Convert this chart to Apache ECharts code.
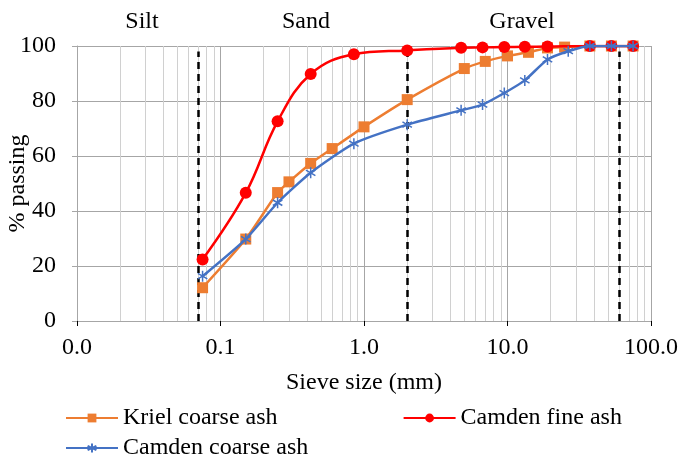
<!DOCTYPE html>
<html>
<head>
<meta charset="utf-8">
<script src="https://cdn.jsdelivr.net/npm/echarts@6/dist/echarts.min.js"></script>
<style>
  html, body { margin: 0; padding: 0; background: #fff; }
  #chart { width: 678px; height: 457px; }
</style>
</head>
<body>
<div id="chart"></div>
<script>
// sieve sizes (mm) and % passing
const krielSizes = [0.075, 0.15, 0.25, 0.3, 0.425, 0.6, 1.0, 2.0, 5.0, 7.0, 10, 14, 19, 25, 37.5, 53, 75]
const krielPassing = [12.1, 29.8, 46.7, 50.6, 57.3, 62.7, 70.6, 80.5, 91.8, 94.4, 96.4, 97.7, 99.3, 99.6, 100, 100, 100]

const camdenFineSizes = [0.075, 0.15, 0.25, 0.425, 0.85, 2.0, 4.75, 6.7, 9.5, 13.2, 19, 37.5, 53, 75]
const camdenFinePassing = [22.4, 46.6, 72.6, 89.8, 97.0, 98.4, 99.4, 99.5, 99.6, 99.7, 99.8, 100, 100, 100]

const camdenCoarseSizes = [0.075, 0.15, 0.25, 0.425, 0.85, 2.0, 4.75, 6.7, 9.5, 13.2, 19, 26.5, 37.5, 53, 75]
const camdenCoarsePassing = [16.3, 29.8, 43.0, 53.9, 64.5, 71.4, 76.6, 78.7, 82.9, 87.5, 95.1, 98.1, 100, 100, 100]

// silt / sand / gravel boundaries (mm)
const boundaries = [0.07, 2.0, 60]
const zoneLabels = ['Silt', 'Sand', 'Gravel']

const FONT = '"Liberation Serif", "Times New Roman", serif'
const FS = 24

const pair = (xs, ys) => xs.map((x, i) => [x, ys[i]])

// minor log gridlines: 2..9 within each decade
const minorLines = []
;[0.01, 0.1, 1, 10].forEach(d => {
  for (let k = 2; k <= 9; k++) minorLines.push({ xAxis: +(d * k).toPrecision(3) })
})

const chart = echarts.init(document.getElementById('chart'))

const legendText = { fontFamily: FONT, fontSize: FS, color: '#000' }

const option = {
  animation: false,
  textStyle: { fontFamily: FONT },
  grid: { left: 77, right: 27, top: 46, bottom: 136, containLabel: false, outerBoundsMode: 'none' },
  xAxis: {
    type: 'log',
    logBase: 10,
    min: 0.01,
    max: 100,
    name: 'Sieve size (mm)',
    nameLocation: 'middle',
    nameGap: 50,
    nameMoveOverlap: false,
    nameTextStyle: { fontFamily: FONT, fontSize: FS, color: '#000' },
    axisLine: { lineStyle: { color: '#a6a6a6', width: 1 } },
    axisTick: { show: true, length: 5, lineStyle: { color: '#000' } },
    axisLabel: {
      fontFamily: FONT, fontSize: FS, color: '#000', margin: 15,
      formatter: v => v.toFixed(1)
    },
    splitLine: { show: true, lineStyle: { color: '#a6a6a6', width: 1 } }
  },
  yAxis: {
    type: 'value',
    min: 0,
    max: 100,
    interval: 20,
    name: '% passing',
    nameLocation: 'middle',
    nameGap: 47,
    nameRotate: 90,
    nameMoveOverlap: false,
    nameTextStyle: { fontFamily: FONT, fontSize: FS, color: '#000' },
    axisLine: { show: true, lineStyle: { color: '#a6a6a6' } },
    axisTick: { show: true, length: 5, lineStyle: { color: '#a6a6a6' } },
    axisLabel: { fontFamily: FONT, fontSize: FS, color: '#000', margin: 21 },
    splitLine: { lineStyle: { color: '#a6a6a6', width: 1 } }
  },
  legend: [
    {
      data: ['Kriel coarse ash', 'Camden fine ash'],
      left: 60, top: 401,
      itemWidth: 52, itemHeight: 11, itemGap: 125,
      textStyle: legendText
    },
    {
      data: ['Camden coarse ash'],
      left: 60, top: 431,
      itemWidth: 52, itemHeight: 11,
      textStyle: legendText
    }
  ],
  graphic: zoneLabels.map((t, i) => ({
    type: 'text',
    x: [142, 306, 522][i],
    y: 22,
    style: {
      text: t, font: FS + 'px ' + FONT, fill: '#000',
      align: 'center', verticalAlign: 'middle'
    }
  })),
  series: [
    {
      name: 'minorGrid',
      type: 'line',
      data: [],
      silent: true,
      z: 1,
      markLine: {
        silent: true, symbol: 'none', animation: false, z: 1,
        label: { show: false },
        lineStyle: { color: '#d0d0d0', width: 1, type: 'solid' },
        data: minorLines
      }
    },
    {
      name: 'boundaries',
      type: 'line',
      data: [],
      silent: true,
      z: 2,
      markLine: {
        silent: true, symbol: 'none', animation: false, z: 2,
        label: { show: false },
        lineStyle: { color: '#000', width: 2.5, type: [7, 5] },
        data: boundaries.map(b => [{ coord: [b, 0] }, { coord: [b, 98] }])
      }
    },
    {
      name: 'Kriel coarse ash',
      type: 'line',
      data: pair(krielSizes, krielPassing),
      smooth: 0.2,
      symbol: 'rect',
      symbolSize: 11,
      color: '#ED7D31',
      lineStyle: { width: 2.5, color: '#ED7D31' },
      itemStyle: { color: '#ED7D31' },
      z: 3
    },
    {
      name: 'Camden fine ash',
      type: 'line',
      data: pair(camdenFineSizes, camdenFinePassing),
      smooth: 0.4,
      symbol: 'circle',
      symbolSize: 12,
      color: '#FF0000',
      lineStyle: { width: 2.5, color: '#FF0000' },
      itemStyle: { color: '#FF0000' },
      z: 4
    },
    {
      name: 'Camden coarse ash',
      type: 'line',
      data: pair(camdenCoarseSizes, camdenCoarsePassing),
      smooth: 0.2,
      symbol: 'path://M5,0L5,10M0.7,2.5L9.3,7.5M0.7,7.5L9.3,2.5',
      symbolKeepAspect: true,
      symbolSize: 11,
      color: '#4472C4',
      lineStyle: { width: 2.5, color: '#4472C4' },
      itemStyle: { color: 'none', borderColor: '#4472C4', borderWidth: 1.5 },
      z: 5
    }
  ]
}

chart.setOption(option)
</script>
</body>
</html>
